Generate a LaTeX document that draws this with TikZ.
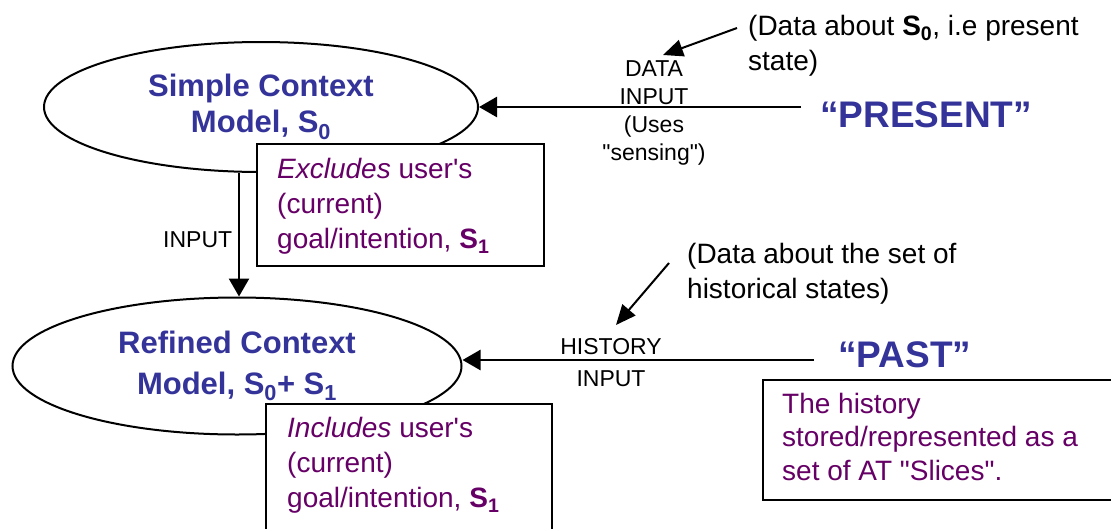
\documentclass[tikz,border=0pt]{standalone}
\usepackage{fontspec}
\setmainfont{Liberation Sans}
\usetikzlibrary{shapes.geometric,arrows.meta}
\definecolor{modelblue}{RGB}{51,51,153}
\definecolor{notepurple}{RGB}{102,0,102}
\begin{document}
\begin{tikzpicture}[x=1pt,y=-1pt,
  model/.style={ellipse,draw,line width=2pt,inner sep=0pt,align=center,
    text=modelblue,font=\fontsize{31}{36}\selectfont\bfseries},
  flow/.style={line width=2.6pt,-{Triangle[length=18pt,width=20pt]}},
  pointer/.style={line width=2pt,-{Triangle[length=20pt,width=17pt]}},
  note/.style={inner sep=0pt,anchor=north west,align=left,text=notepurple,
    font=\fontsize{28}{35}\selectfont},
  boxline/.style={line width=2.6pt},
  lbl/.style={inner sep=0pt,align=center,font=\fontsize{23}{28}\selectfont},
  remark/.style={inner sep=0pt,anchor=north west,align=left,
    font=\fontsize{28}{35}\selectfont},
  era/.style={inner sep=0pt,anchor=base west,text=modelblue,
    font=\fontsize{37}{40}\selectfont\bfseries}]
\useasboundingbox (0,0) rectangle (1111,528);

% the two context models
\node[model,minimum width=434pt,minimum height=130pt] (simple) at (261,107)
  {Simple Context\\Model, S\textsubscript{0}};
\node[model,minimum width=449pt,minimum height=137pt,
  font=\fontsize{31}{41}\selectfont\bfseries] (refined) at (237,366)
  {Refined Context\\Model, S\textsubscript{0}+ S\textsubscript{1}};

% present / past sources
\node[era] (present) at (820,127) {“PRESENT”};
\node[era] (past) at (838,367) {“PAST”};
\coordinate (pin) at (801,107);
\coordinate (hin) at (814,360);

% input flows
\draw[flow] (pin) -- (simple.east);
\draw[flow] (hin) -- (hin -| refined.east);
\draw[flow] ([xshift=-22pt]simple.south) -- ([xshift=-22pt]simple.south |- refined.north);

% flow labels
\node[lbl,anchor=north] (datain) at (654,60)
  {DATA\\INPUT\\(Uses\\\textquotedbl sensing\textquotedbl)};
\node[lbl,anchor=north,font=\fontsize{23}{32}\selectfont] (histin) at (611,338)
  {HISTORY\\INPUT};
\node[lbl,anchor=base west] (inlbl) at (163,247) {INPUT};

% explanatory remarks with pointers
\node[remark] (rempresent) at (748,15)
  {(Data about \textbf{S\textsubscript{0}}, i.e present\\state)};
\node[remark] (rempast) at (687,243)
  {(Data about the set of\\historical states)};
\coordinate (p1) at (737,28);
\coordinate (p2) at (669,263);
\draw[pointer] (p1) -- ([xshift=9pt,yshift=5pt]datain.north);
\draw[pointer] (p2) -- ([xshift=5pt,yshift=13pt]histin.north);

% notes on the models
\fill[white] (257,144) rectangle (544,266);
\draw[boxline] (257,144) rectangle (544,266);
\node[note] (excl) at (277,158)
  {\textit{Excludes} user\textquotesingle s\\(current)\\goal/intention, \textbf{S\textsubscript{1}}};

\fill[white] (266,404) rectangle (552,530);
\draw[boxline] (266,530) |- (552,404) -- (552,530);
\node[note] (incl) at (287,417)
  {\textit{Includes} user\textquotesingle s\\(current)\\goal/intention, \textbf{S\textsubscript{1}}};

\fill[white] (763,380) rectangle (1113,500);
\draw[boxline] (1113,380) -| (763,500) -- (1113,500);
\node[note,font=\fontsize{28}{33.5}\selectfont] (hist) at (782,393)
  {The history\\stored/represented as a\\set of AT \textquotedbl Slices\textquotedbl.};
\end{tikzpicture}
\end{document}
